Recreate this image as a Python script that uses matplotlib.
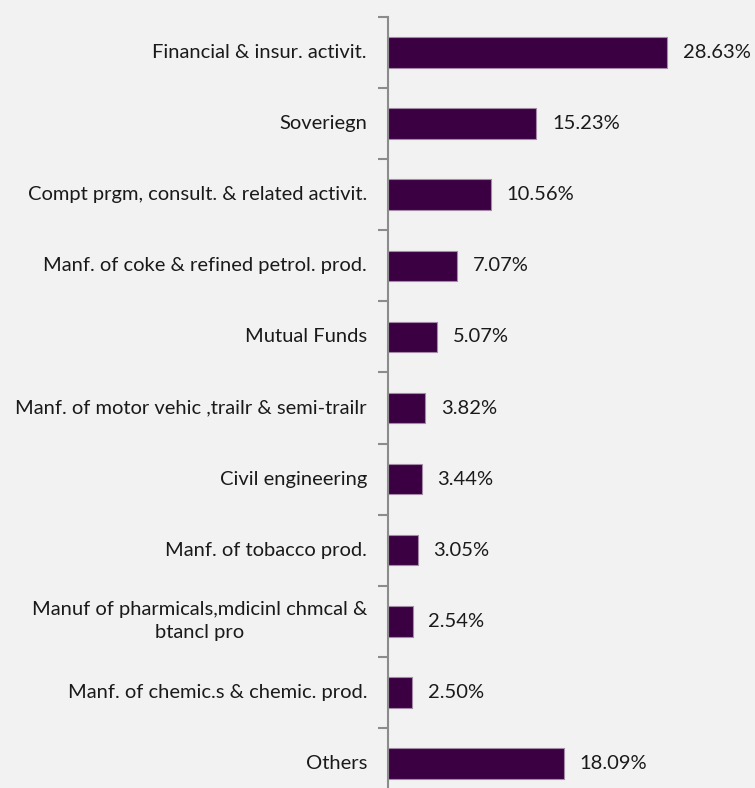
import matplotlib
matplotlib.use("Agg")
import matplotlib.pyplot as plt
from matplotlib.transforms import blended_transform_factory, offset_copy

categories = [
    "Financial & insur. activit.",
    "Soveriegn",
    "Compt prgm, consult. & related activit.",
    "Manf. of coke & refined petrol. prod.",
    "Mutual Funds",
    "Manf. of motor vehic ,trailr & semi-trailr",
    "Civil engineering",
    "Manf. of tobacco prod.",
    "Manuf of pharmicals,mdicinl chmcal &\nbtancl pro",
    "Manf. of chemic.s & chemic. prod.",
    "Others",
]
values = [28.63, 15.23, 10.56, 7.07, 5.07, 3.82, 3.44, 3.05, 2.54, 2.50, 18.09]

plt.rcParams["font.family"] = ["Lato", "DejaVu Sans"]

W, H = 755, 788
fig = plt.figure(figsize=(W / 100, H / 100), dpi=100, facecolor="#f2f2f2")
# axes spans x 388..729 px, y from 17 px (top) to 799 px (below the figure edge)
ax = fig.add_axes([388 / W, (H - 799) / H, 341 / W, 782 / H], facecolor="#f2f2f2")

n = len(categories)
pos = list(range(n))
ax.barh(pos, values, height=0.43, color="#3a0042", edgecolor="#a58aa8", linewidth=0.8)
ax.set_xlim(0, 35)
ax.set_ylim(n - 0.5, -0.5)

for p, v in zip(pos, values):
    ax.text(v + 1.6, p, f"{v:.2f}%", va="center", ha="left", fontsize=14.5, color="#1a1a1a")

# category labels, right-aligned left of the axis line, wrapped lines centred
label_tf = offset_copy(blended_transform_factory(ax.transAxes, ax.transData),
                       fig=fig, x=-21, y=0, units="dots")
for p, name in zip(pos, categories):
    ax.text(0, p, name, transform=label_tf, ha="right", va="center",
            multialignment="center", linespacing=1.45, fontsize=14.5, color="#1a1a1a")

ax.set_yticks([i - 0.5 for i in range(n + 1)])
ax.set_yticklabels([])
ax.tick_params(axis="y", length=7, width=1.5, color="#8c8c8c")
ax.set_xticks([])

for s in ["top", "right", "bottom"]:
    ax.spines[s].set_visible(False)
ax.spines["left"].set_color("#8c8c8c")
ax.spines["left"].set_linewidth(1.5)

fig.savefig("out.png", dpi=100, facecolor=fig.get_facecolor())
